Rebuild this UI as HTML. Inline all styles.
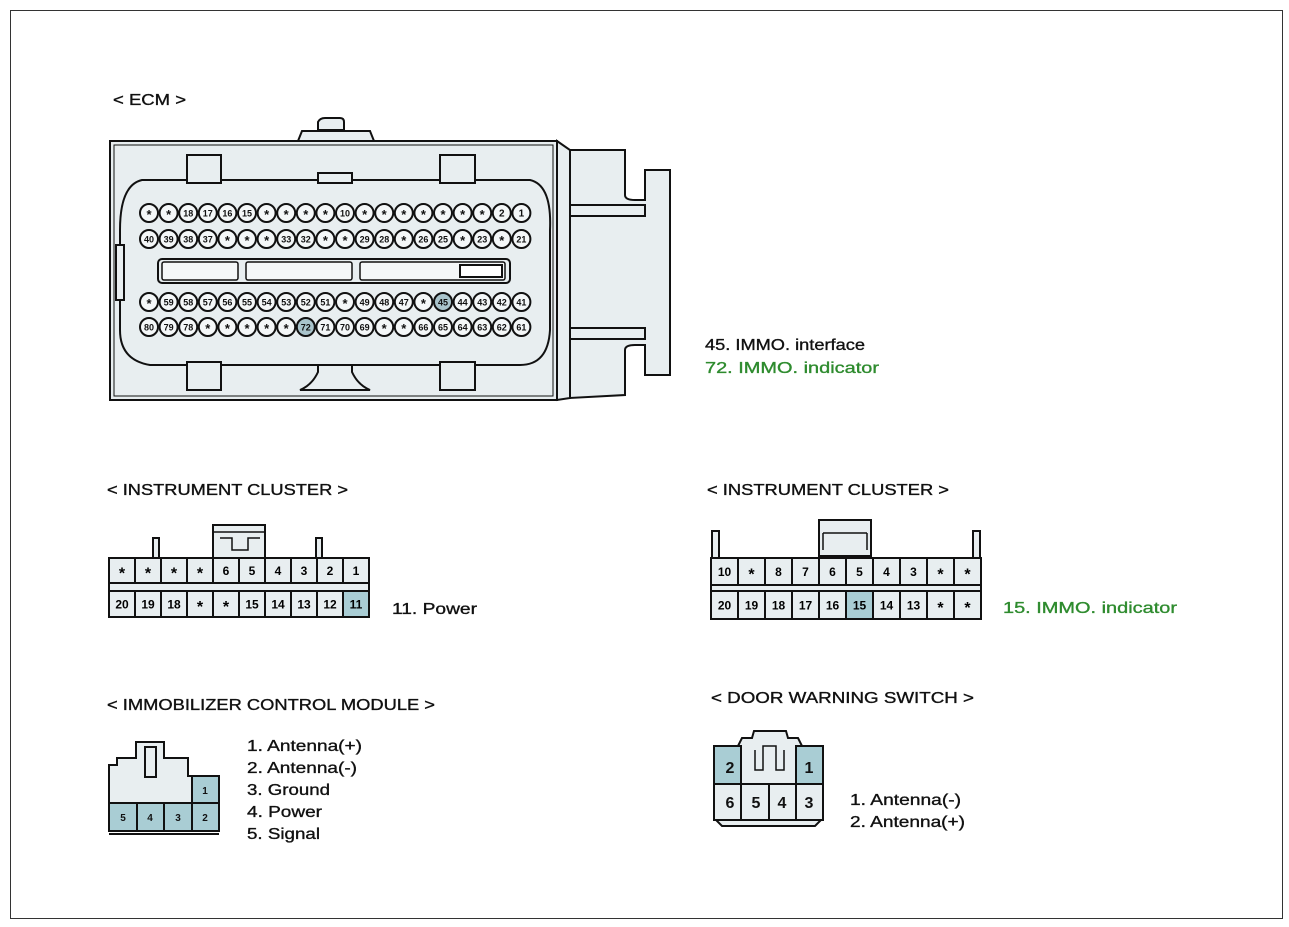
<!DOCTYPE html>
<html><head><meta charset="utf-8"><style>
html,body{margin:0;padding:0;background:#fff;}
svg{display:block;font-family:"Liberation Sans",Arial,sans-serif;}
</style></head><body>
<svg width="1289" height="927" viewBox="0 0 1289 927" xmlns="http://www.w3.org/2000/svg">
<rect x="10.5" y="10.5" width="1272" height="908" fill="#fff" stroke="#333" stroke-width="1"/>
<g font-size="16" fill="#111" stroke="#111" stroke-width="0.35" lengthAdjust="spacingAndGlyphs">
<text x="113" y="105" textLength="73" lengthAdjust="spacingAndGlyphs">&lt; ECM &gt;</text>
<text x="107" y="495" textLength="241" lengthAdjust="spacingAndGlyphs">&lt; INSTRUMENT CLUSTER &gt;</text>
<text x="707" y="495" textLength="242" lengthAdjust="spacingAndGlyphs">&lt; INSTRUMENT CLUSTER &gt;</text>
<text x="107" y="710" textLength="328" lengthAdjust="spacingAndGlyphs">&lt; IMMOBILIZER CONTROL MODULE &gt;</text>
<text x="711" y="703" textLength="263" lengthAdjust="spacingAndGlyphs">&lt; DOOR WARNING SWITCH &gt;</text>
<text x="705" y="350" textLength="160" lengthAdjust="spacingAndGlyphs">45. IMMO. interface</text>
<text x="705" y="373" fill="#2e8b2e" stroke="#2e8b2e" textLength="174" lengthAdjust="spacingAndGlyphs">72. IMMO. indicator</text>
<text x="392" y="614" textLength="85" lengthAdjust="spacingAndGlyphs">11. Power</text>
<text x="1003" y="613" fill="#2e8b2e" stroke="#2e8b2e" textLength="174" lengthAdjust="spacingAndGlyphs">15. IMMO. indicator</text>
<text x="247" y="751" textLength="115" lengthAdjust="spacingAndGlyphs">1. Antenna(+)</text>
<text x="247" y="773" textLength="110" lengthAdjust="spacingAndGlyphs">2. Antenna(-)</text>
<text x="247" y="795" textLength="83" lengthAdjust="spacingAndGlyphs">3. Ground</text>
<text x="247" y="817" textLength="75" lengthAdjust="spacingAndGlyphs">4. Power</text>
<text x="247" y="839" textLength="73" lengthAdjust="spacingAndGlyphs">5. Signal</text>
<text x="850" y="805" textLength="111" lengthAdjust="spacingAndGlyphs">1. Antenna(-)</text>
<text x="850" y="827" textLength="115" lengthAdjust="spacingAndGlyphs">2. Antenna(+)</text>
</g>

<!-- ECM -->
<g stroke="#111" stroke-width="2" fill="#e8eef0">
<path d="M318 130 L318 122 Q320 118 325 118 L340 118 Q344 118 344 122 L344 130 Z"/>
<path d="M298 141 L302 131 L370 131 L374 141 Z" />
<path d="M557 141 L570 150 L570 398 L557 400 Z"/>
<path d="M570 150 L625 150 L625 195 Q625 200 635 200 L645 200 L645 170 L670 170 L670 375 L645 375 L645 345 L635 345 Q625 345 625 350 L625 395 L570 398 Z"/>
<rect x="110" y="141" width="447" height="259"/>
<rect x="114" y="145" width="439" height="251" fill="none" stroke-width="1"/>
<path d="M142 180 L530 180 Q552 185 550 230 L550 330 Q548 365 520 365 L150 365 Q120 360 120 330 L120 230 Q120 185 142 180 Z"/>
<rect x="187" y="155" width="34" height="28"/>
<rect x="440" y="155" width="35" height="28"/>
<rect x="187" y="362" width="34" height="28"/>
<rect x="440" y="362" width="35" height="28"/>
<rect x="318" y="173" width="34" height="10"/>
<path d="M318 365 L318 372 Q312 385 300 390 L370 390 Q358 385 352 372 L352 365 Z"/>
<rect x="116" y="245" width="8" height="55"/>
<path d="M570 205 L645 205 L645 216 L570 216 Z"/>
<path d="M570 328 L645 328 L645 339 L570 339 Z"/>
<rect x="158" y="259" width="352" height="24" rx="4"/>
<rect x="162" y="262" width="76" height="18" rx="2" fill="#f4f7f8" stroke-width="1.5"/>
<rect x="246" y="262" width="106" height="18" rx="2" fill="#f4f7f8" stroke-width="1.5"/>
<rect x="360" y="262" width="145" height="18" rx="2" fill="#f4f7f8" stroke-width="1.5"/>
<rect x="460" y="265" width="42" height="12" fill="#fff" stroke-width="2"/>
</g>
<g id="pins" font-size="10" font-weight="bold" text-anchor="middle" fill="#111"></g>

<!-- Left instrument cluster -->
<g stroke="#111" stroke-width="2" fill="#e8eef0">
<rect x="153" y="538" width="6" height="20"/>
<rect x="316" y="538" width="6" height="20"/>
<rect x="213" y="525" width="52" height="33"/>
<path d="M213 532 L265 532 M220 538 L232 538 L232 550 L248 550 L248 538 L260 538" fill="none" stroke-width="1.5"/>
<rect x="109" y="583" width="260" height="8"/>
</g>
<g id="ic1" font-size="12" font-weight="bold" text-anchor="middle"></g>

<!-- Right instrument cluster -->
<g stroke="#111" stroke-width="2" fill="#e8eef0">
<rect x="712" y="531" width="7" height="27"/>
<rect x="973" y="531" width="7" height="27"/>
<rect x="819" y="520" width="52" height="36"/>
<path d="M823 533 L867 533 M823 533 L823 550 M867 533 L867 550" fill="none" stroke-width="1.5"/>
<rect x="711" y="585" width="270" height="6"/>
</g>
<g id="ic2" font-size="12" font-weight="bold" text-anchor="middle"></g>

<!-- Immobilizer -->
<g stroke="#111" stroke-width="2" fill="#e8eef0" font-size="10" font-weight="bold" text-anchor="middle">
<path d="M109 803 L109 765 L117 765 L117 758 L136 758 L136 742 L164 742 L164 758 L188 758 L188 776 L219 776 L219 803 Z"/>
<rect x="145" y="747" width="11" height="30"/>
<rect x="192" y="776" width="27" height="27" fill="#a9cdd4"/>
<rect x="109" y="803" width="28" height="28" fill="#a9cdd4"/>
<rect x="137" y="803" width="27" height="28" fill="#a9cdd4"/>
<rect x="164" y="803" width="28" height="28" fill="#a9cdd4"/>
<rect x="192" y="803" width="27" height="28" fill="#a9cdd4"/>
<line x1="109" y1="834" x2="219" y2="834"/>
<g fill="#111" stroke="none"><text x="205" y="794">1</text><text x="123" y="821">5</text><text x="150" y="821">4</text><text x="178" y="821">3</text><text x="205" y="821">2</text></g>
</g>

<!-- Door switch -->
<g stroke="#111" stroke-width="2" fill="#e8eef0" font-size="16" font-weight="bold" text-anchor="middle">
<path d="M714 746 L738 746 L742 738 L752 738 L754 731 L786 731 L788 738 L798 738 L802 746 L823 746 L823 818 L815 826 L722 826 L714 818 Z"/>
<rect x="714" y="746" width="27" height="38" fill="#a9cdd4"/>
<rect x="796" y="746" width="27" height="38" fill="#a9cdd4"/>
<path d="M755 750 L755 770 L763 770 L763 746 L776 746 L776 770 L784 770 L784 750" fill="none" stroke-width="1.5"/>
<rect x="714" y="784" width="27" height="36"/>
<rect x="741" y="784" width="28" height="36"/>
<rect x="769" y="784" width="27" height="36"/>
<rect x="796" y="784" width="27" height="36"/>
<g fill="#111" stroke="none"><text x="730" y="773">2</text><text x="809" y="773">1</text><text x="730" y="808">6</text><text x="756" y="808">5</text><text x="782" y="808">4</text><text x="809" y="808">3</text></g>
</g>

<script>
(function(){
var ns="http://www.w3.org/2000/svg";
function el(p,t,a,txt){var e=document.createElementNS(ns,t);for(var k in a)e.setAttribute(k,a[k]);if(txt!=null)e.textContent=txt;p.appendChild(e);return e;}
var rows=[
["*","*","18","17","16","15","*","*","*","*","10","*","*","*","*","*","*","*","2","1"],
["40","39","38","37","*","*","*","33","32","*","*","29","28","*","26","25","*","23","*","21"],
["*","59","58","57","56","55","54","53","52","51","*","49","48","47","*","45","44","43","42","41"],
["80","79","78","*","*","*","*","*","72","71","70","69","*","*","66","65","64","63","62","61"]];
var ys=[213,239,302,327];
var g=document.getElementById("pins");
rows.forEach(function(r,i){r.forEach(function(v,j){
 var x=149+j*19.6,y=ys[i];
 var hl=(v=="45"||v=="72");
 el(g,"circle",{cx:x,cy:y,r:9,fill:hl?"#a9c4cc":"#f4f7f8",stroke:"#111","stroke-width":2});
 if(v=="*") el(g,"text",{x:x,y:y+6,"font-size":13},"*");
 else el(g,"text",{x:x,y:y+3.5,"font-size":v.length>1?9:10},v);
});});
function cl(gid,x0,w,top,bot,y1,h1,y2,h2,hl){
 var g=document.getElementById(gid);
 for(var i=0;i<10;i++){
  var x=x0+i*w;
  el(g,"rect",{x:x,y:y1,width:w,height:h1,fill:"#e8eef0",stroke:"#111","stroke-width":2});
  el(g,"text",{x:x+w/2,y:y1+h1/2+(top[i]=="*"?8:4.5),"font-size":top[i]=="*"?16:12},top[i]);
  el(g,"rect",{x:x,y:y2,width:w,height:h2,fill:bot[i]==hl?"#a9cdd4":"#e8eef0",stroke:"#111","stroke-width":2});
  el(g,"text",{x:x+w/2,y:y2+h2/2+(bot[i]=="*"?8:4.5),"font-size":bot[i]=="*"?16:12},bot[i]);
 }
}
cl("ic1",109,26,["*","*","*","*","6","5","4","3","2","1"],["20","19","18","*","*","15","14","13","12","11"],558,25,591,26,"11");
cl("ic2",711,27,["10","*","8","7","6","5","4","3","*","*"],["20","19","18","17","16","15","14","13","*","*"],558,27,591,28,"15");
})();
</script>
</svg>
</body></html>
